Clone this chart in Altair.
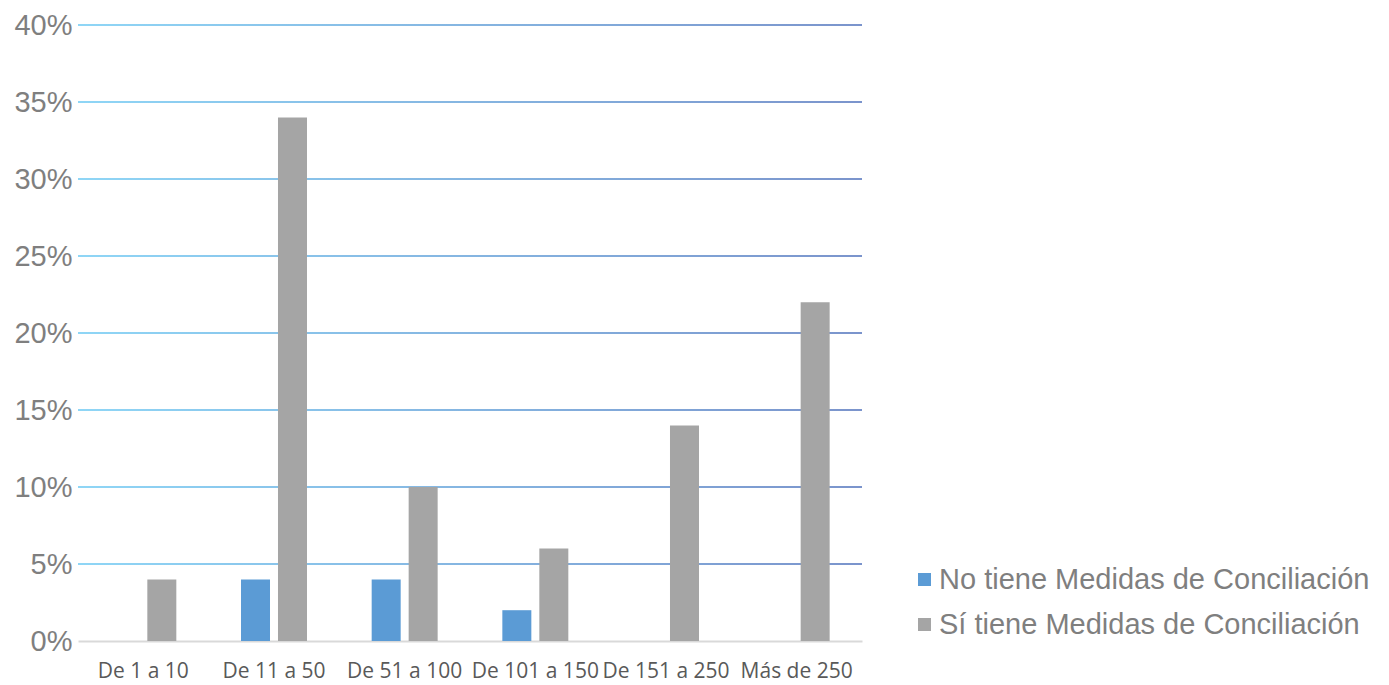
import altair as alt
import pandas as pd

# Company size bands and share of companies with / without work-life balance measures (%)
categories = ["De 1 a 10", "De 11 a 50", "De 51 a 100", "De 101 a 150", "De 151 a 250", "Más de 250"]
series = ["No tiene Medidas de Conciliación", "Sí tiene Medidas de Conciliación"]
no_tiene = [0, 4, 4, 2, 0, 0]
si_tiene = [4, 34, 10, 6, 14, 22]
y_ticks = [0, 5, 10, 15, 20, 25, 30, 35, 40]
grid_values = [5, 10, 15, 20, 25, 30, 35, 40]
series_colors = ["#5b9bd5", "#a5a5a5"]

rows = []
for cat, a, b in zip(categories, no_tiene, si_tiene):
    rows.append({"rango": cat, "serie": series[0], "pct": a})
    rows.append({"rango": cat, "serie": series[1], "pct": b})
bars_df = pd.DataFrame(rows)
grid_df = pd.DataFrame({"g": grid_values})

W, H = 784, 616
y_scale = alt.Scale(domain=[0, 40], nice=False, zero=True)
y_axis = alt.Axis(
    title=None, values=y_ticks, labelExpr="datum.value + '%'",
    labelFont="Liberation Sans", labelFontSize=29, labelColor="#7f7f7f",
    labelPadding=6, ticks=False, domain=False, grid=False,
)

grid_fill = alt.LinearGradient(
    gradient="linear",
    stops=[alt.GradientStop(offset=0, color="#8fd6f6"),
           alt.GradientStop(offset=1, color="#7b94cc")],
    x1=0, x2=1, y1=0, y2=0,
)

# horizontal gridlines as thin gradient-filled rects
grid = alt.Chart(grid_df).mark_rect(fill=grid_fill, yOffset=-1, y2Offset=1).encode(
    x=alt.value(0),
    x2=alt.value(W),
    y=alt.Y("g:Q", scale=y_scale, axis=y_axis),
    y2=alt.Y2("g:Q"),
)

bars = alt.Chart(bars_df).mark_bar().encode(
    x=alt.X(
        "rango:N",
        sort=categories,
        scale=alt.Scale(paddingInner=0.495, paddingOuter=0.2475),
        axis=alt.Axis(
            title=None, labelAngle=0, labelFont="Open Sans", labelFontSize=21,
            labelColor="#595959", labelPadding=19, ticks=False,
            domainColor="#d9d9d9", domainWidth=2, labelLimit=200,
        ),
    ),
    xOffset=alt.XOffset("serie:N", sort=series,
                        scale=alt.Scale(paddingInner=0.216, paddingOuter=0)),
    y=alt.Y("pct:Q", scale=y_scale, axis=y_axis),
    color=alt.Color(
        "serie:N",
        sort=series,
        scale=alt.Scale(domain=series, range=series_colors),
        legend=alt.Legend(
            title=None, orient="none", legendX=832, legendY=540,
            symbolType="square", symbolSize=169, symbolStrokeWidth=0,
            labelFont="Liberation Sans", labelFontSize=29, labelColor="#7f7f7f",
            labelLimit=600, labelOffset=0, rowPadding=15, padding=0,
        ),
    ),
)

chart = alt.layer(grid, bars).properties(
    width=W,
    height=H,
    autosize=alt.AutoSizeParams(type="none"),
    padding={"left": 78, "top": 25, "right": 527, "bottom": 44},
    background="white",
).configure_view(stroke=None)

chart.save("out.html", embed_options={"renderer": "svg", "actions": False})
